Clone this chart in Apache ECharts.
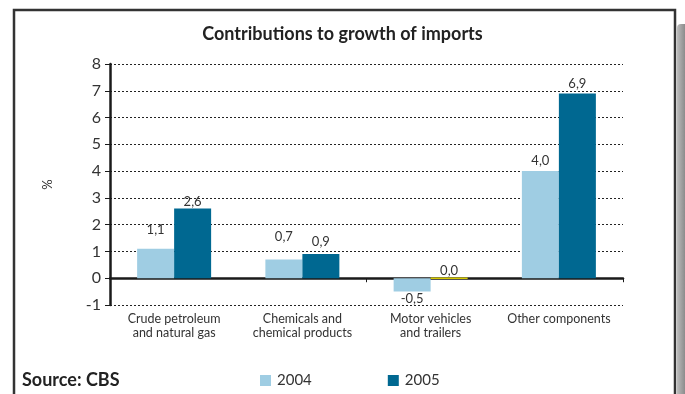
<!DOCTYPE html>
<html>
<head>
<meta charset="utf-8">
<script src="https://cdn.jsdelivr.net/npm/echarts@6/dist/echarts.min.js"></script>
<style>
  html, body { margin: 0; padding: 0; background: #fff; }
  #chart { width: 685px; height: 394px; }
</style>
</head>
<body>
<div id="chart"></div>
<script>
// Import growth contributions by product group, percentage points
const categories = [
  'Crude petroleum\nand natural gas',
  'Chemicals and\nchemical products',
  'Motor vehicles\nand trailers',
  'Other components'
];
const years = ['2004', '2005'];
const values2004 = [1.1, 0.7, -0.5, 4.0];
const values2005 = [2.6, 0.9, 0.0, 6.9];
const yTicks = [-1, 0, 1, 2, 3, 4, 5, 6, 7, 8];

// Styling
const FONT = 'Lato, "Open Sans", sans-serif';
const TEXT = '#333';
const C2004 = '#9fcde3';
const C2005 = '#006891';
const ZERO_MARK = '#d6c900';
// gap between each value label and its bar end, px
const lift2004 = [12, 16, 1, 4];
const lift2005 = [0, 6, 0, 3];

const fmt = v => v.toFixed(1).replace('.', ',');

function buildData(values, lifts) {
  return values.map((v, i) => {
    const item = {
      value: v,
      label: { position: v < 0 ? 'bottom' : 'top', distance: lifts[i] }
    };
    if (v === 0) {
      item.itemStyle = { color: ZERO_MARK, borderColor: ZERO_MARK, borderWidth: 1.5 };
    }
    return item;
  });
}

const chart = echarts.init(document.getElementById('chart'), null, { renderer: 'canvas' });

const labelStyle = {
  show: true,
  color: TEXT,
  fontFamily: FONT,
  fontSize: 13,
  formatter: p => fmt(p.value)
};

chart.setOption({
  animation: false,
  backgroundColor: '#fff',
  title: {
    text: 'Contributions to growth of imports',
    left: 'center',
    top: 20,
    textStyle: { fontFamily: FONT, fontSize: 18, fontWeight: 'bold', color: '#222' }
  },
  legend: {
    data: years,
    left: 255,
    top: 368,
    itemWidth: 11,
    itemHeight: 11,
    itemGap: 76,
    icon: 'rect',
    textStyle: { fontFamily: FONT, fontSize: 15, color: TEXT, padding: [0, 0, 0, 1] }
  },
  grid: { left: 110, right: 62, top: 64, bottom: 89 },
  xAxis: [
    {
      type: 'category',
      data: categories,
      position: 'bottom',
      axisLine: { show: false, onZero: false },
      axisTick: { show: false },
      axisLabel: {
        margin: 7,
        fontFamily: FONT,
        fontSize: 12.5,
        color: TEXT,
        lineHeight: 14,
        interval: 0
      }
    },
    {
      type: 'category',
      data: categories,
      position: 'bottom',
      axisLine: { show: true, onZero: true, lineStyle: { color: '#1a1a1a', width: 2.5 } },
      axisTick: { show: true, inside: false, length: 4, lineStyle: { color: '#1a1a1a', width: 1 } },
      axisLabel: { show: false }
    }
  ],
  yAxis: {
    type: 'value',
    min: yTicks[0],
    max: yTicks[yTicks.length - 1],
    interval: 1,
    name: '%',
    nameLocation: 'middle',
    nameGap: 56,
    nameRotate: 90,
    nameTextStyle: { fontFamily: FONT, fontSize: 13, color: TEXT },
    axisLine: { show: true, lineStyle: { color: '#1a1a1a', width: 2.5 } },
    axisTick: { show: true, length: 5, lineStyle: { color: '#1a1a1a', width: 1 } },
    axisLabel: { margin: 9, fontFamily: FONT, fontSize: 16, color: TEXT },
    splitLine: { show: true, lineStyle: { color: '#222', width: 1, type: [2, 2] } }
  },
  series: [
    {
      name: years[0],
      type: 'bar',
      xAxisIndex: 0,
      data: buildData(values2004, lift2004),
      barWidth: 37,
      barGap: '0%',
      itemStyle: { color: C2004 },
      label: labelStyle,
      z: 3
    },
    {
      name: years[1],
      type: 'bar',
      xAxisIndex: 0,
      data: buildData(values2005, lift2005),
      barWidth: 37,
      barGap: '0%',
      itemStyle: { color: C2005 },
      label: labelStyle,
      z: 3
    }
  ],
  graphic: [
    {
      type: 'rect',
      shape: { x: 14, y: 10, width: 661, height: 400 },
      style: { fill: 'none', stroke: '#333', lineWidth: 2.5 },
      z: 10
    },
    {
      type: 'rect',
      shape: { x: 677, y: 24, width: 8, height: 380, r: [4, 0, 0, 0] },
      style: {
        fill: new echarts.graphic.LinearGradient(0, 0, 1, 0, [
          { offset: 0, color: '#bdbdbd' },
          { offset: 0.5, color: '#a3a3a3' },
          { offset: 1, color: '#8c8c8c' }
        ])
      },
      z: 10
    },
    {
      type: 'text',
      left: 22,
      top: 371,
      style: {
        text: 'Source: CBS',
        fontFamily: FONT,
        fontSize: 18,
        fontWeight: 'bold',
        fill: '#222'
      },
      z: 10
    }
  ]
});
</script>
</body>
</html>
